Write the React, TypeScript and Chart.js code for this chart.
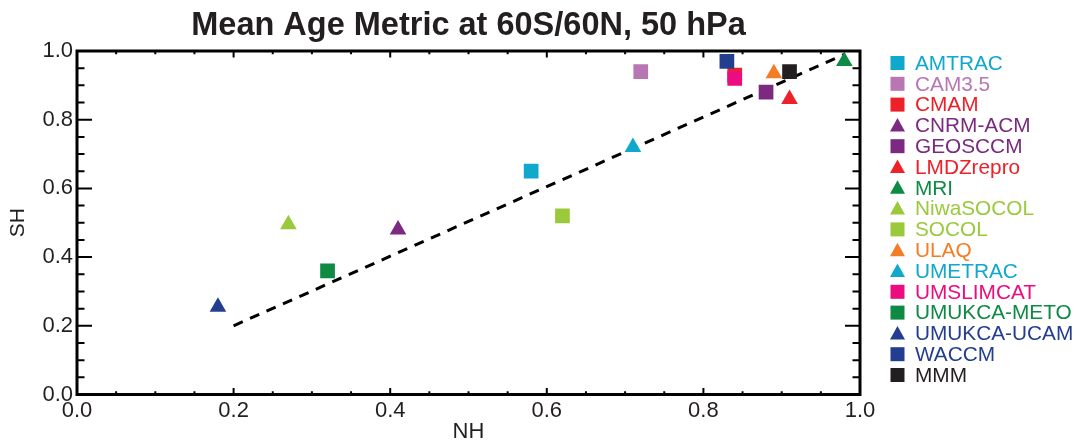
import React, { useEffect, useRef } from 'react';
import { Chart, registerables } from 'chart.js';

Chart.register(...registerables);

// ---- data ----
const models = [
  'AMTRAC', 'CAM3.5', 'CMAM', 'CNRM-ACM', 'GEOSCCM', 'LMDZrepro', 'MRI', 'NiwaSOCOL',
  'SOCOL', 'ULAQ', 'UMETRAC', 'UMSLIMCAT', 'UMUKCA-METO', 'UMUKCA-UCAM', 'WACCM', 'MMM',
];
const nhValues = [0.58, 0.72, 0.84, 0.41, 0.88, 0.91, 0.98, 0.27, 0.62, 0.89, 0.71, 0.84, 0.32, 0.18, 0.83, 0.91];
const shValues = [0.65, 0.94, 0.93, 0.48, 0.88, 0.86, 0.97, 0.495, 0.52, 0.935, 0.72, 0.92, 0.36, 0.255, 0.97, 0.94];
const refLineNH = [0.2, 0.98];
const refLineSH = [0.2, 0.99];
const majorTickValues = [0.0, 0.2, 0.4, 0.6, 0.8, 1.0];
const minorTickValues = [0.05, 0.1, 0.15, 0.25, 0.3, 0.35, 0.45, 0.5, 0.55, 0.65, 0.7, 0.75, 0.85, 0.9, 0.95];

// ---- styles ----
const markerShapes = [
  'rect', 'rect', 'rect', 'triangle', 'rect', 'triangle', 'triangle', 'triangle',
  'rect', 'triangle', 'triangle', 'rect', 'rect', 'triangle', 'rect', 'rect',
];
const markerColors = [
  '#10A8CC', '#B877B2', '#EE2028', '#7B2A80', '#7B2A80', '#EE2028', '#0E8A45', '#9ACA3C',
  '#9ACA3C', '#F37D25', '#10A8CC', '#EC0C80', '#0E8A45', '#233E8F', '#233E8F', '#231F20',
];

const FONT = '"Liberation Sans", Arial, Helvetica, sans-serif';

const frameAndTicks = {
  id: 'frameAndTicks',
  afterDraw(chart: any) {
    const { ctx, chartArea } = chart;
    const { left, right, top, bottom } = chartArea;
    const xs = chart.scales.x;
    const ys = chart.scales.y;
    ctx.save();
    ctx.strokeStyle = '#000';
    ctx.lineCap = 'butt';
    ctx.lineWidth = 2;
    const drawTicks = (vals: number[], xLen: number, yLen: number) => {
      vals.forEach((v) => {
        const px = xs.getPixelForValue(v);
        ctx.beginPath();
        ctx.moveTo(px, bottom);
        ctx.lineTo(px, bottom - xLen);
        ctx.moveTo(px, top);
        ctx.lineTo(px, top + xLen);
        ctx.stroke();
        const py = ys.getPixelForValue(v);
        ctx.beginPath();
        ctx.moveTo(left, py);
        ctx.lineTo(left + yLen, py);
        ctx.moveTo(right, py);
        ctx.lineTo(right - yLen, py);
        ctx.stroke();
      });
    };
    drawTicks(majorTickValues, 6.6, 15);
    drawTicks(minorTickValues, 3.3, 7.5);
    ctx.lineWidth = 3;
    ctx.strokeRect(left, top, right - left, bottom - top);
    ctx.restore();
  },
};

const sideLegend = {
  id: 'sideLegend',
  afterDraw(chart: any) {
    const { ctx, chartArea } = chart;
    const cx0 = chartArea.right + 37.5;
    const cy0 = chartArea.top + 12;
    const step = 20.8;
    ctx.save();
    ctx.font = `20.8px ${FONT}`;
    ctx.textBaseline = 'middle';
    ctx.textAlign = 'left';
    let row = 0;
    chart.data.datasets.forEach((ds: any) => {
      if (ds.isRefLine) return;
      const cy = cy0 + row * step;
      ctx.fillStyle = ds.backgroundColor;
      if (ds.pointStyle === 'triangle') {
        ctx.beginPath();
        ctx.moveTo(cx0, cy - 7.5);
        ctx.lineTo(cx0 + 7.5, cy + 6);
        ctx.lineTo(cx0 - 7.5, cy + 6);
        ctx.closePath();
        ctx.fill();
      } else {
        ctx.fillRect(cx0 - 7, cy - 7, 14, 14);
      }
      ctx.fillText(ds.label, cx0 + 17.5, cy + 1);
      row++;
    });
    ctx.restore();
  },
};

export default function App() {
  const canvasRef = useRef<HTMLCanvasElement | null>(null);

  useEffect(() => {
    if (!canvasRef.current) return;
    const pointDatasets = models.map((name, i) => ({
      type: 'scatter' as const,
      label: name,
      data: [{ x: nhValues[i], y: shValues[i] }],
      pointStyle: markerShapes[i],
      backgroundColor: markerColors[i],
      borderColor: markerColors[i],
      pointBorderWidth: 0,
      pointRadius: markerShapes[i] === 'rect' ? 10.4 : 9.6,
      order: -i,
    }));
    const lineDataset = {
      type: 'scatter' as const,
      label: '',
      isRefLine: true,
      data: refLineNH.map((x, i) => ({ x, y: refLineSH[i] })),
      showLine: true,
      borderColor: '#000',
      borderWidth: 3,
      borderDash: [10, 8],
      pointRadius: 0,
      order: 100,
    };

    const fmt = (v: any) => Number(v).toFixed(1);

    const chart = new Chart(canvasRef.current, {
      type: 'scatter',
      data: { datasets: [...pointDatasets, lineDataset] as any },
      options: {
        animation: false,
        responsive: true,
        maintainAspectRatio: false,
        layout: { padding: { left: 0, right: 216, top: 0, bottom: 0 } },
        plugins: {
          legend: { display: false },
          tooltip: { enabled: false },
          title: {
            display: true,
            fullSize: false,
            text: 'Mean Age Metric at 60S/60N, 50 hPa',
            color: '#231F20',
            font: { family: FONT, size: 32.5, weight: 'bold' },
            padding: { top: 7, bottom: 5 },
          },
        },
        scales: {
          x: {
            type: 'linear',
            min: 0,
            max: 1,
            grid: { display: false, drawTicks: false },
            border: { display: false },
            afterBuildTicks: (s: any) => {
              s.ticks = majorTickValues.map((v) => ({ value: v }));
            },
            afterFit: (s: any) => {
              s.height = 49.5;
            },
            ticks: {
              color: '#231F20',
              padding: 3,
              font: { family: FONT, size: 22 },
              callback: fmt,
            },
            title: {
              display: true,
              text: 'NH',
              color: '#231F20',
              font: { family: FONT, size: 22 },
              padding: { top: 0, bottom: -1 },
            },
          },
          y: {
            type: 'linear',
            min: 0,
            max: 1,
            grid: { display: false, drawTicks: false },
            border: { display: false },
            afterBuildTicks: (s: any) => {
              s.ticks = majorTickValues.map((v) => ({ value: v }));
            },
            afterFit: (s: any) => {
              s.width = 77;
            },
            ticks: {
              color: '#231F20',
              padding: 4,
              font: { family: FONT, size: 22 },
              callback: fmt,
            },
            title: {
              display: true,
              text: 'SH',
              color: '#231F20',
              font: { family: FONT, size: 21 },
              padding: { top: 6, bottom: 0 },
            },
          },
        },
      },
      plugins: [frameAndTicks, sideLegend],
    });
    return () => chart.destroy();
  }, []);

  return (
    <div style={{ position: 'fixed', left: 0, top: 0, width: 1076, height: 444, background: '#fff' }}>
      <canvas ref={canvasRef} />
    </div>
  );
}
